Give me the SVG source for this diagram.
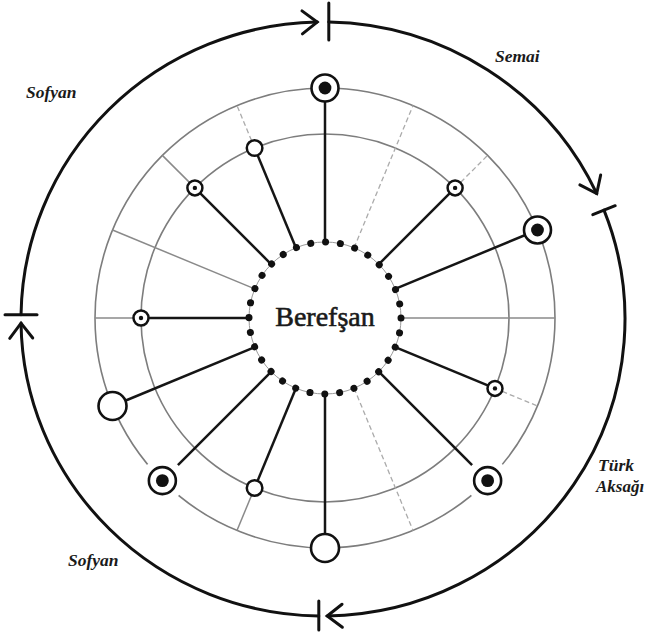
<svg xmlns="http://www.w3.org/2000/svg" width="651" height="638" viewBox="0 0 651 638">
<style>
.ring{fill:none;stroke:#7d7d7d;stroke-width:1.6}
.gl{stroke:#8a8a8a;stroke-width:1.5;fill:none}
.gd{stroke:#ababab;stroke-width:1.3;stroke-dasharray:5 3;fill:none}
.bl{stroke:#151515;stroke-width:2.5;fill:none}
.arc{fill:none;stroke:#111;stroke-width:3;stroke-linecap:round}
.tick{stroke:#111;stroke-width:3;stroke-linecap:round}
.nb{fill:#fff;stroke:#111;stroke-width:2.6}
.ns{fill:#fff;stroke:#111;stroke-width:2.5}
.dot{fill:#111}
.halo{fill:#fff}
.lbl{font-family:"Liberation Serif",serif;font-weight:bold;font-style:italic;font-size:17.5px;fill:#1a1a1a}
.ctr{font-family:"Liberation Serif",serif;font-weight:normal;font-size:28px;fill:#1a1a1a;stroke:#1a1a1a;stroke-width:0.6}
</style>
<defs>
<marker id="chev" markerUnits="userSpaceOnUse" viewBox="-20 -15 24 30" refX="0" refY="0" markerWidth="24" markerHeight="30" orient="auto">
<path d="M-15,-11.5 L0,0 L-15,11.5" fill="none" stroke="#111" stroke-width="3" stroke-linecap="round" stroke-linejoin="miter"/>
</marker>
</defs>
<rect width="651" height="638" fill="#fff"/>
<g id="rings">
<circle class="ring" cx="325" cy="318" r="230"/>
<circle class="ring" cx="325" cy="318" r="184"/>
</g>
<g id="connectors">
<line class="gd" x1="354.08" y1="247.79" x2="413.02" y2="105.51"/>
<line class="gd" x1="455.11" y1="187.89" x2="487.63" y2="155.37"/>
<line class="gl" x1="401" y1="318" x2="555" y2="318"/>
<line class="gd" x1="494.99" y1="388.41" x2="537.49" y2="406.02"/>
<line class="gd" x1="354.08" y1="388.21" x2="413.02" y2="530.49"/>
<line class="gl" x1="254.59" y1="487.99" x2="236.98" y2="530.49"/>
<line class="gl" x1="141" y1="318" x2="95" y2="318"/>
<line class="gl" x1="254.79" y1="288.92" x2="112.51" y2="229.98"/>
<line class="gl" x1="194.89" y1="187.89" x2="162.37" y2="155.37"/>
<line class="gd" x1="254.59" y1="148.01" x2="236.98" y2="105.51"/>
<line class="bl" x1="325" y1="242" x2="325" y2="88"/>
<line class="bl" x1="378.74" y1="264.26" x2="455.11" y2="187.89"/>
<line class="bl" x1="395.21" y1="288.92" x2="537.49" y2="229.98"/>
<line class="bl" x1="395.21" y1="347.08" x2="494.99" y2="388.41"/>
<line class="bl" x1="378.74" y1="371.74" x2="487.63" y2="480.63"/>
<line class="bl" x1="325" y1="394" x2="325" y2="548"/>
<line class="bl" x1="295.92" y1="388.21" x2="254.59" y2="487.99"/>
<line class="bl" x1="271.26" y1="371.74" x2="162.37" y2="480.63"/>
<line class="bl" x1="254.79" y1="347.08" x2="112.51" y2="406.02"/>
<line class="bl" x1="249" y1="318" x2="141" y2="318"/>
<line class="bl" x1="271.26" y1="264.26" x2="194.89" y2="187.89"/>
<line class="bl" x1="295.92" y1="247.79" x2="254.59" y2="148.01"/>
</g>
<g id="center">
<circle cx="325" cy="318" r="76" fill="none" stroke="#999" stroke-width="1"/>
<circle cx="325" cy="318" r="76" fill="none" stroke="#111" stroke-width="7" stroke-linecap="round" stroke-dasharray="0.01 14.9126"/>
<text class="ctr" x="325" y="326" text-anchor="middle">Berefşan</text>
</g>
<g id="n1"><circle class="nb" cx="325" cy="88" r="13.5"/><circle class="dot" cx="325" cy="88" r="6.4"/></g>
<g id="n2"><circle class="ns" cx="254.59" cy="148.01" r="7.8"/></g>
<g id="n3"><circle class="ns" cx="194.89" cy="187.89" r="7.5"/><circle class="dot" cx="194.89" cy="187.89" r="2.2"/></g>
<g id="n4"><circle class="ns" cx="141" cy="318" r="7.5"/><circle class="dot" cx="141" cy="318" r="2.2"/></g>
<g id="n5"><circle class="nb" cx="112.51" cy="406.02" r="14"/></g>
<g id="n6"><circle class="halo" cx="162.37" cy="480.63" r="22"/><circle class="nb" cx="162.37" cy="480.63" r="13.5"/><circle class="dot" cx="162.37" cy="480.63" r="6.4"/></g>
<g id="n7"><circle class="ns" cx="254.59" cy="487.99" r="7.8"/></g>
<g id="n8"><circle class="nb" cx="325" cy="548" r="14"/></g>
<g id="n9"><circle class="halo" cx="487.63" cy="480.63" r="22"/><circle class="nb" cx="487.63" cy="480.63" r="13.5"/><circle class="dot" cx="487.63" cy="480.63" r="6.4"/></g>
<g id="n10"><circle class="ns" cx="494.99" cy="388.41" r="7.5"/><circle class="dot" cx="494.99" cy="388.41" r="2.2"/></g>
<g id="n11"><circle class="nb" cx="537.49" cy="229.98" r="13.5"/><circle class="dot" cx="537.49" cy="229.98" r="6.4"/></g>
<g id="n12"><circle class="ns" cx="455.11" cy="187.89" r="7.5"/><circle class="dot" cx="455.11" cy="187.89" r="2.2"/></g>
<g id="cycle">
<path class="arc" d="M21.03,314.85 A302,297 0 0 1 317.2,22.05" marker-end="url(#chev)"/>
<path class="arc" d="M328.8,22.05 A302,297 0 0 1 596.7,193.5" marker-end="url(#chev)"/>
<path class="arc" d="M603.99,210.15 A302,297 0 0 1 327.2,615.97" marker-end="url(#chev)"/>
<path class="arc" d="M318.8,615.97 A302,297 0 0 1 21.03,323.15" marker-end="url(#chev)"/>
<line class="tick" x1="328.8" y1="3" x2="328.8" y2="40"/>
<line class="tick" x1="592.8" y1="214.6" x2="615.2" y2="205.7"/>
<line class="tick" x1="318.8" y1="601" x2="318.8" y2="630"/>
<line class="tick" x1="5" y1="314.85" x2="37" y2="314.85"/>
</g>
<g id="labels">
<text class="lbl" x="598" y="471">Türk</text>
<text class="lbl" x="596" y="492" style="font-size:17px">Aksağı</text>
<text class="lbl" x="26" y="98">Sofyan</text>
<text class="lbl" x="495" y="62">Semai</text>
<text class="lbl" x="68" y="566">Sofyan</text>
</g>
</svg>
